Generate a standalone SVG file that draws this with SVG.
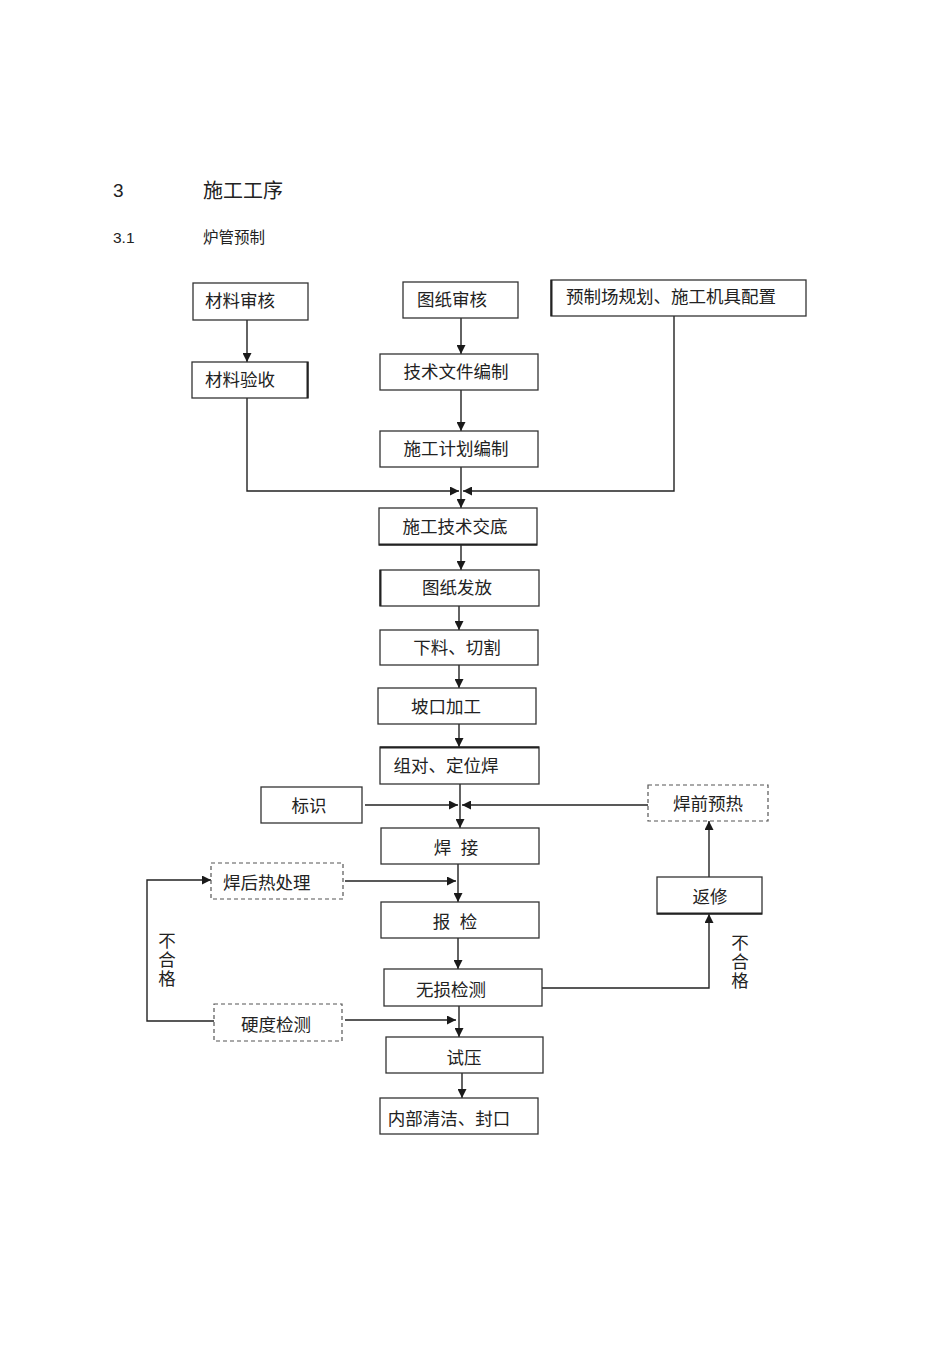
<svg xmlns="http://www.w3.org/2000/svg" width="950" height="1346" viewBox="0 0 950 1346">
<defs>
<marker id="ah" viewBox="0 0 10 10" refX="10" refY="5" markerWidth="10" markerHeight="9" markerUnits="userSpaceOnUse" orient="auto">
<path d="M0,0 L10,5 L0,10 z" fill="#1a1a1a"/>
</marker>
<style>
.b{fill:#fff;stroke:#333;stroke-width:1.3}
.d{fill:#fff;stroke:#555;stroke-width:1.2;stroke-dasharray:4,3}
.t{font-family:"Liberation Sans","Noto Sans CJK SC",sans-serif;font-size:17.5px;fill:#222}
.c{text-anchor:middle}
.l{fill:none;stroke:#222;stroke-width:1.3}
.a{fill:none;stroke:#222;stroke-width:1.4;marker-end:url(#ah)}
.h{font-family:"Liberation Sans","Noto Sans CJK SC",sans-serif;fill:#222}
</style>
</defs>
<rect width="950" height="1346" fill="#fff"/>
<g id="title">
<text class="h" x="113" y="197" font-size="19">3</text>
<text class="h" x="203" y="198" font-size="20">施工工序</text>
<text class="h" x="113" y="243" font-size="15.5">3.1</text>
<text class="h" x="203" y="243" font-size="15.5">炉管预制</text>
</g>
<g id="connectors">
<line class="a" x1="247" y1="320" x2="247" y2="362"/>
<line class="a" x1="461" y1="318" x2="461" y2="354"/>
<line class="a" x1="461" y1="390" x2="461" y2="431"/>
<line class="a" x1="461" y1="467" x2="461" y2="508"/>
<polyline class="a" points="247,398 247,491 459,491"/>
<polyline class="a" points="674,316 674,491 463,491"/>
<line class="a" x1="461" y1="545" x2="461" y2="570"/>
<line class="a" x1="459" y1="606" x2="459" y2="630"/>
<line class="a" x1="459" y1="665" x2="459" y2="688"/>
<line class="a" x1="459" y1="724" x2="459" y2="747"/>
<line class="a" x1="460" y1="784" x2="460" y2="828"/>
<line class="a" x1="365" y1="805" x2="458" y2="805"/>
<line class="a" x1="648" y1="805" x2="462" y2="805"/>
<line class="a" x1="458" y1="864" x2="458" y2="902"/>
<line class="a" x1="345" y1="881" x2="456" y2="881"/>
<line class="a" x1="458" y1="938" x2="458" y2="969"/>
<polyline class="a" points="542,988 709,988 709,914"/>
<line class="a" x1="709" y1="877" x2="709" y2="821"/>
<line class="a" x1="459" y1="1006" x2="459" y2="1037"/>
<line class="a" x1="345" y1="1020" x2="456" y2="1020"/>
<polyline class="a" points="214,1021 147,1021 147,880 211,880"/>
<line class="a" x1="462" y1="1073" x2="462" y2="1098"/>
</g>
<g id="n1"><rect class="b" x="193" y="283" width="115" height="37"/><text class="t" x="205" y="307">材料审核</text></g>
<g id="n2"><rect class="b" x="192" y="362" width="116" height="36"/><line x1="307.5" y1="362" x2="307.5" y2="398" stroke="#222" stroke-width="2"/><text class="t" x="205" y="386">材料验收</text></g>
<g id="n3"><rect class="b" x="403" y="282" width="115" height="36"/><text class="t" x="417" y="306">图纸审核</text></g>
<g id="n4"><rect class="b" x="551" y="280" width="255" height="36"/><line x1="551.5" y1="280" x2="551.5" y2="316" stroke="#222" stroke-width="2"/><text class="t" x="566" y="303">预制场规划、施工机具配置</text></g>
<g id="n5"><rect class="b" x="380" y="354" width="158" height="36"/><text class="t c" x="456" y="378">技术文件编制</text></g>
<g id="n6"><rect class="b" x="380" y="431" width="158" height="36"/><text class="t c" x="456" y="455">施工计划编制</text></g>
<g id="n7"><rect class="b" x="379" y="508" width="158" height="37"/><line x1="379" y1="544.5" x2="537" y2="544.5" stroke="#222" stroke-width="2"/><text class="t c" x="455" y="533">施工技术交底</text></g>
<g id="n8"><rect class="b" x="380" y="570" width="159" height="36"/><line x1="380.5" y1="570" x2="380.5" y2="606" stroke="#222" stroke-width="2"/><text class="t c" x="457" y="594">图纸发放</text></g>
<g id="n9"><rect class="b" x="380" y="630" width="158" height="35"/><text class="t c" x="457" y="654">下料、切割</text></g>
<g id="n10"><rect class="b" x="378" y="688" width="158" height="36"/><text class="t c" x="446" y="713">坡口加工</text></g>
<g id="n11"><rect class="b" x="380" y="747" width="159" height="37"/><line x1="380" y1="747.5" x2="539" y2="747.5" stroke="#222" stroke-width="2"/><text class="t c" x="446" y="772">组对、定位焊</text></g>
<g id="n12"><rect class="b" x="261" y="787" width="101" height="36"/><text class="t c" x="309" y="812">标识</text></g>
<g id="n13"><rect class="d" x="648" y="785" width="120" height="36"/><text class="t c" x="708" y="810">焊前预热</text></g>
<g id="n14"><rect class="b" x="381" y="828" width="158" height="36"/><text class="t c" x="456" y="854" xml:space="preserve">焊  接</text></g>
<g id="n15"><rect class="d" x="211" y="863" width="132" height="36"/><text class="t" x="223" y="889">焊后热处理</text></g>
<g id="n16"><rect class="b" x="657" y="877" width="105" height="37"/><line x1="657" y1="913.5" x2="762" y2="913.5" stroke="#222" stroke-width="2"/><text class="t c" x="710" y="903">返修</text></g>
<g id="n17"><rect class="b" x="381" y="902" width="158" height="36"/><text class="t c" x="455" y="928" xml:space="preserve">报  检</text></g>
<g id="n18"><rect class="b" x="384" y="969" width="158" height="37"/><text class="t c" x="451" y="996">无损检测</text></g>
<g id="n19"><rect class="d" x="214" y="1004" width="128" height="37"/><text class="t c" x="276" y="1031">硬度检测</text></g>
<g id="n20"><rect class="b" x="386" y="1037" width="157" height="36"/><text class="t c" x="464" y="1064">试压</text></g>
<g id="n21"><rect class="b" x="380" y="1098" width="158" height="36"/><text class="t c" x="449" y="1125">内部清洁、封口</text></g>
<g id="labels">
<text class="t c" x="167" y="947">不</text>
<text class="t c" x="167" y="966">合</text>
<text class="t c" x="167" y="985">格</text>
<text class="t c" x="740" y="949">不</text>
<text class="t c" x="740" y="968">合</text>
<text class="t c" x="740" y="987">格</text>
</g>
</svg>
